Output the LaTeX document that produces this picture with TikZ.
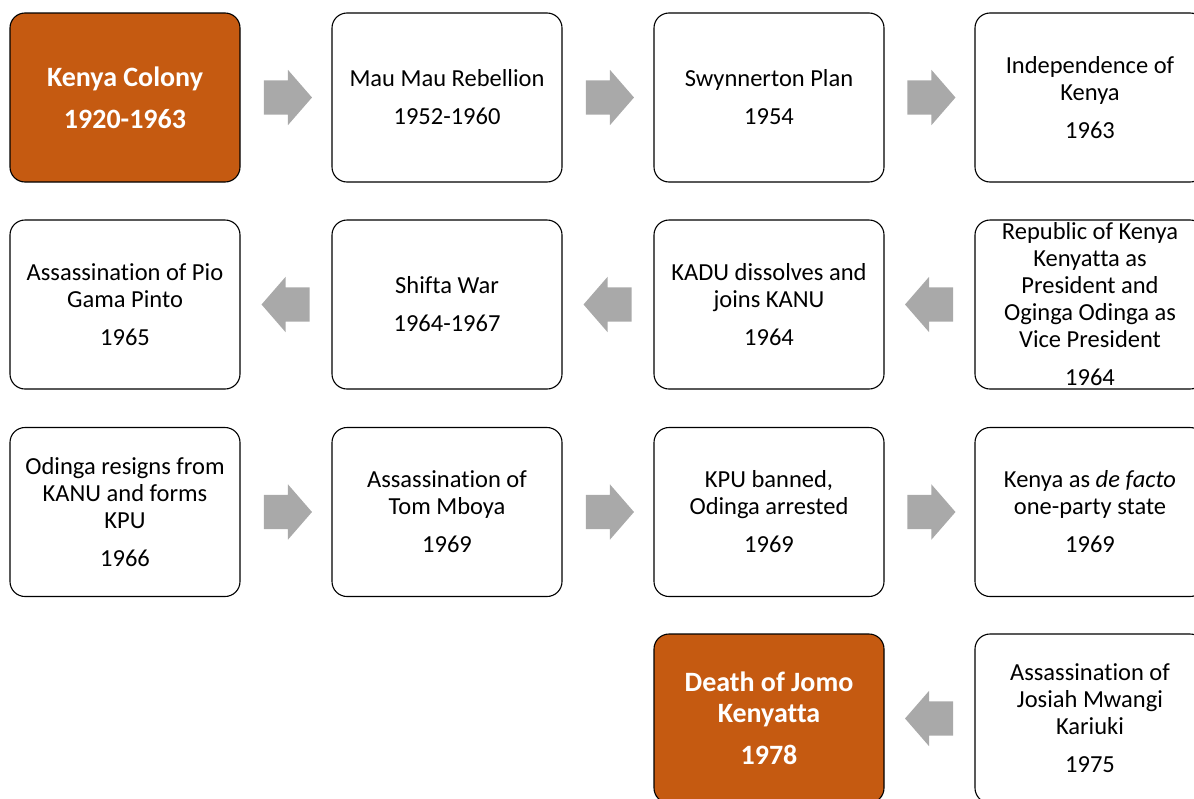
\documentclass[tikz,border=0pt]{standalone}
\usepackage{fontspec}
\setmainfont{Carlito}[Ligatures=CommonOff]
\usetikzlibrary{shapes,arrows,calc}

\definecolor{rust}{HTML}{C55A11}
\definecolor{arrowgray}{HTML}{A9A9A9}

\begin{document}
\begin{tikzpicture}[x=1pt,y=-1pt]
		\tikzstyle{Event} 	= [draw=black, line width=1.1pt, fill=white, rounded corners=15pt, minimum width=230pt, minimum height=169pt, align=center, inner sep=0pt, font=\fontsize{24.5}{27}\selectfont]
		\tikzstyle{Key}		= [fill=rust, text=white, font=\fontsize{28}{31}\selectfont\bfseries]
		\tikzstyle{Step}	= [single arrow, fill=arrowgray, draw=none, inner sep=0pt, text height=17pt, text depth=17pt, minimum height=48pt, single arrow head extend=10.5pt, single arrow tip angle=98, single arrow head indent=0pt]
		\tikzstyle{Fwd}		= [Step, xshift=-5.5pt]
		\tikzstyle{Back}	= [Step, shape border rotate=180, xshift=7pt]

		\useasboundingbox (0,0) rectangle (1194,798);
		\clip (0,0) rectangle (1194,798);

		% row 1
		\node (colony) at (125, 97.5) [Event][Key] {Kenya Colony\\[11pt]1920-1963};
		\node (maumau) at (447, 97.5) [Event] {Mau Mau Rebellion\\[11pt]1952-1960};
		\node (swynnerton) at (769, 97.5) [Event] {Swynnerton Plan\\[11pt]1954};
		\node (independence) at (1090, 97.5) [Event] {Independence of\\Kenya\\[11pt]1963};

		% row 2
		\node (republic) at (1090, 304.5) [Event] {Republic of Kenya\\Kenyatta as\\President and\\Oginga Odinga as\\Vice President\\[11pt]1964};
		\node (kadu) at (769, 304.5) [Event] {KADU dissolves and\\joins KANU\\[11pt]1964};
		\node (shifta) at (447, 304.5) [Event] {Shifta War\\[11pt]1964-1967};
		\node (pinto) at (125, 304.5) [Event] {Assassination of Pio\\Gama Pinto\\[11pt]1965};

		% row 3
		\node (odinga) at (125, 512) [Event] {Odinga resigns from\\KANU and forms\\KPU\\[11pt]1966};
		\node (mboya) at (447, 512) [Event] {Assassination of\\Tom Mboya\\[11pt]1969};
		\node (kpu) at (769, 512) [Event] {KPU banned,\\Odinga arrested\\[11pt]1969};
		\node (oneparty) at (1090, 512) [Event] {Kenya as \textit{de facto}\\one-party state\\[11pt]1969};

		% row 4
		\node (kariuki) at (1090, 718.5) [Event] {Assassination of\\Josiah Mwangi\\Kariuki\\[11pt]1975};
		\node (death) at (769, 718.5) [Event][Key] {Death of Jomo\\Kenyatta\\[11pt]1978};

		% arrows
		\node (a1) at ($(colony.east)!0.5!(maumau.west)$) [Fwd] {};
		\node (a2) at ($(maumau.east)!0.5!(swynnerton.west)$) [Fwd] {};
		\node (a3) at ($(swynnerton.east)!0.5!(independence.west)$) [Fwd] {};
		\node (a4) at ($(republic.west)!0.5!(kadu.east)$) [Back] {};
		\node (a5) at ($(kadu.west)!0.5!(shifta.east)$) [Back] {};
		\node (a6) at ($(shifta.west)!0.5!(pinto.east)$) [Back] {};
		\node (a7) at ($(odinga.east)!0.5!(mboya.west)$) [Fwd] {};
		\node (a8) at ($(mboya.east)!0.5!(kpu.west)$) [Fwd] {};
		\node (a9) at ($(kpu.east)!0.5!(oneparty.west)$) [Fwd] {};
		\node (a10) at ($(kariuki.west)!0.5!(death.east)$) [Back] {};
	\end{tikzpicture}
\end{document}
